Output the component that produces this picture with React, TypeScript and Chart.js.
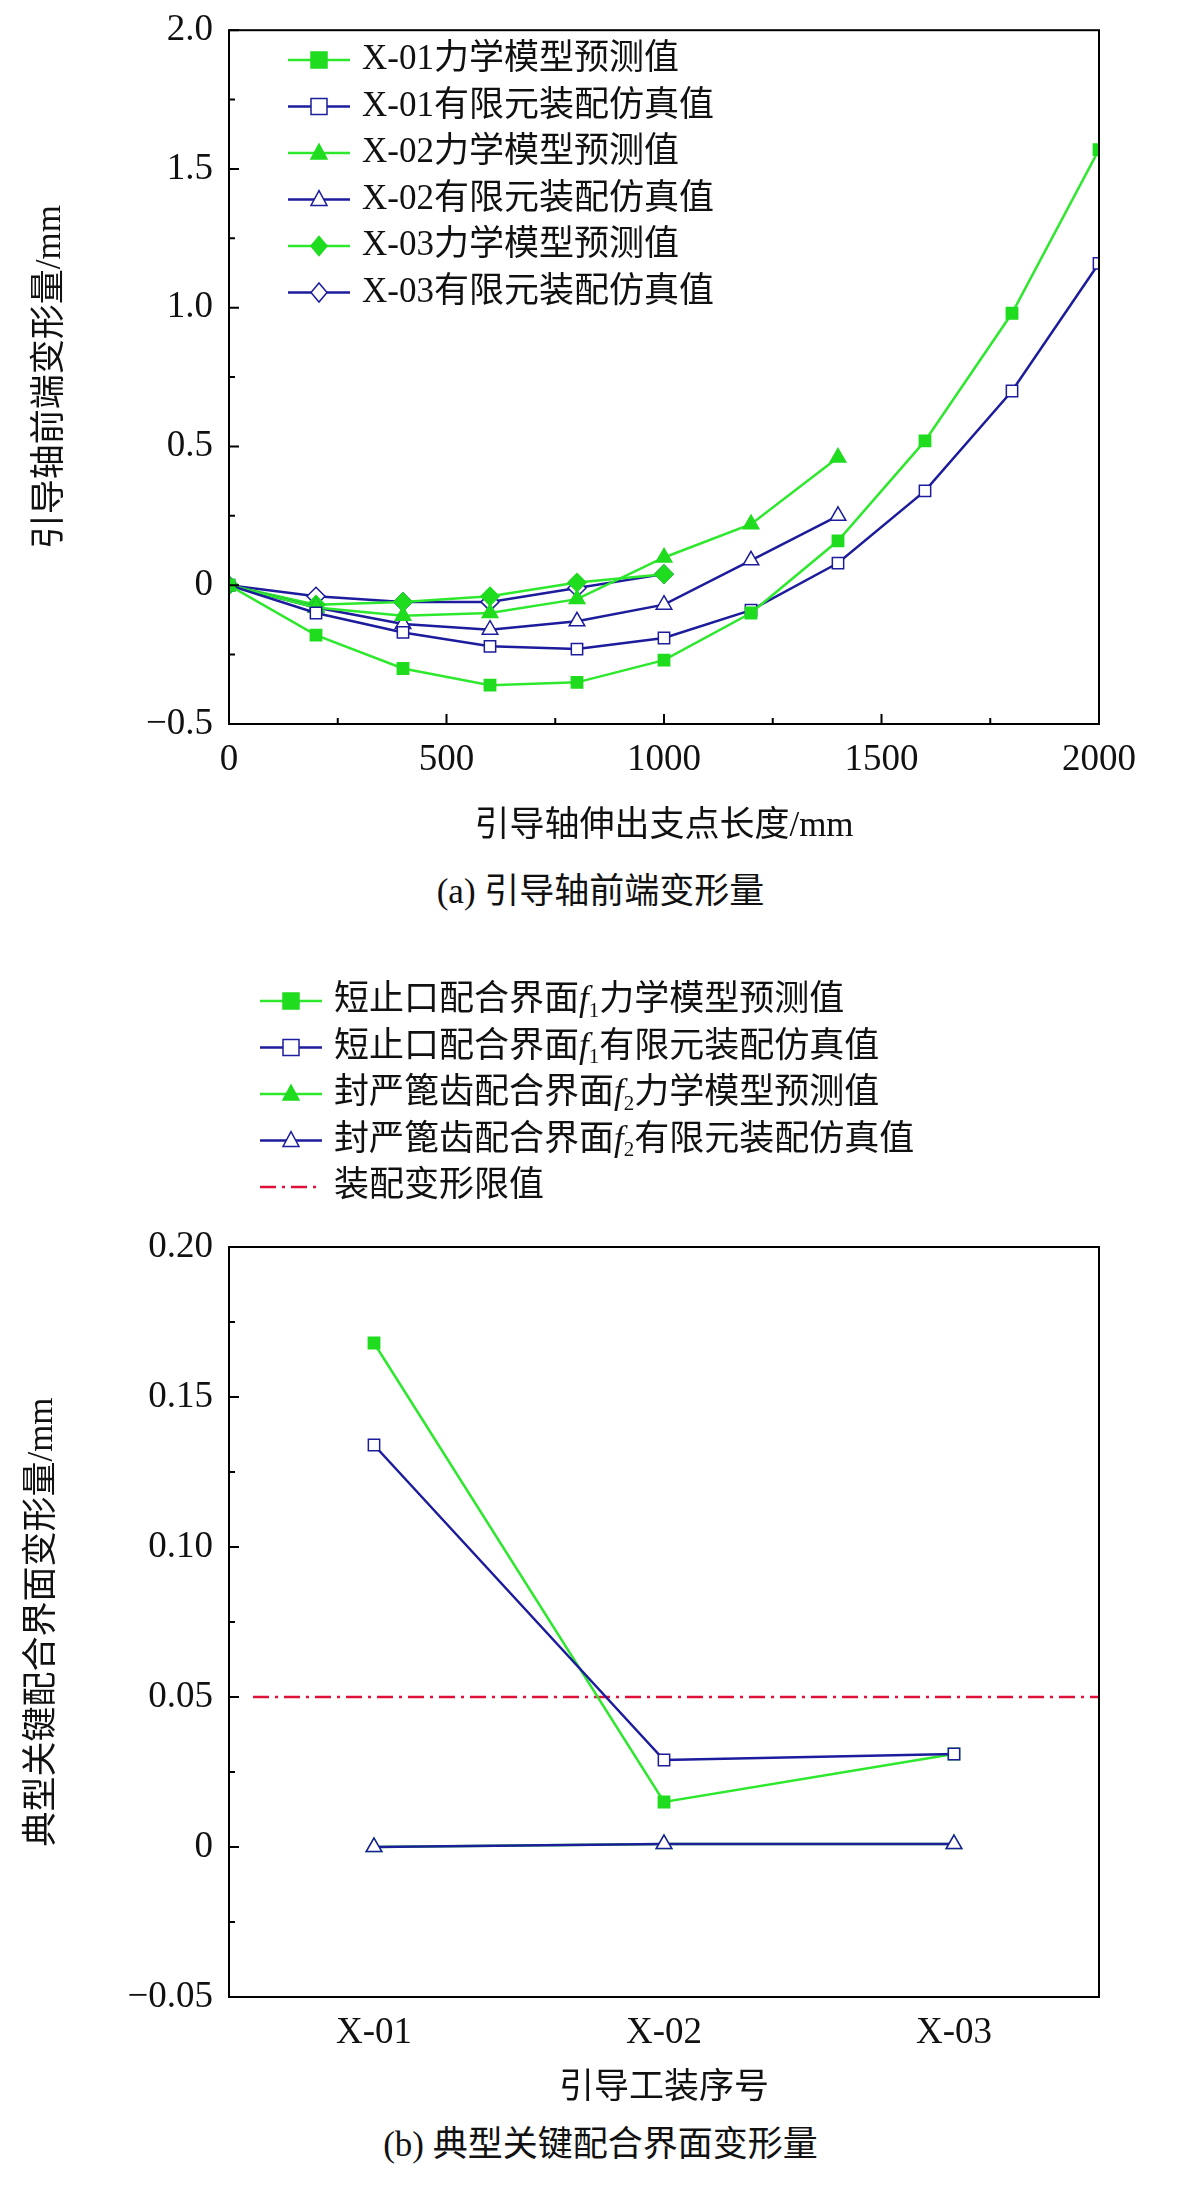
import React, { useEffect, useRef } from 'react';
import { Chart, registerables } from 'chart.js';

Chart.register(...registerables);

const FONT = '"Liberation Serif", "Noto Sans CJK SC", serif';
const GREEN = '#2ee82e';
const GREEN_FILL = '#1fdc1f';
const BLUE = '#1c1c9c';

// chart (a)
const lengths = [0, 200, 400, 600, 800, 1000, 1200, 1400, 1600, 1800, 2000];
const x01Model = [0, -0.18, -0.3, -0.36, -0.35, -0.27, -0.1, 0.16, 0.52, 0.98, 1.57];
const x01Fe = [0, -0.1, -0.17, -0.22, -0.23, -0.19, -0.09, 0.08, 0.34, 0.7, 1.16];
const x02Model = [0, -0.08, -0.11, -0.1, -0.05, 0.1, 0.22, 0.46];
const x02Fe = [0, -0.08, -0.14, -0.16, -0.13, -0.07, 0.09, 0.25];
const x03Model = [0, -0.07, -0.06, -0.04, 0.01, 0.04];
const x03Fe = [0, -0.04, -0.06, -0.06, -0.01, 0.04];

// chart (b)
const fixtures = ['X-01', 'X-02', 'X-03'];
const f1Model = [0.168, 0.015, 0.031];
const f1Fe = [0.134, 0.029, 0.031];
const f2Model = [0, 0.001, 0.001];
const f2Fe = [0, 0.001, 0.001];
const limitValue = 0.05;

type Seg = { t: string; italic?: boolean; sub?: boolean };
type Entry = { color: string; marker?: string; fill?: string; dash?: number[]; segs: Seg[] };

function drawMarker(ctx: CanvasRenderingContext2D, style: string, x: number, y: number, r: number, fill: string, stroke: string) {
  ctx.save();
  ctx.beginPath();
  if (style === 'rect') ctx.rect(x - r, y - r, 2 * r, 2 * r);
  else if (style === 'triangle') {
    ctx.moveTo(x, y - r * 1.1);
    ctx.lineTo(x + r, y + r * 0.75);
    ctx.lineTo(x - r, y + r * 0.75);
    ctx.closePath();
  } else {
    ctx.moveTo(x, y - r * 1.2);
    ctx.lineTo(x + r, y);
    ctx.lineTo(x, y + r * 1.2);
    ctx.lineTo(x - r, y);
    ctx.closePath();
  }
  ctx.fillStyle = fill;
  ctx.fill();
  ctx.lineWidth = 1.5;
  ctx.strokeStyle = stroke;
  ctx.stroke();
  ctx.restore();
}

function drawLegend(ctx: CanvasRenderingContext2D, x: number, y: number, gap: number, entries: Entry[]) {
  entries.forEach((e, i) => {
    const cy = y + i * gap;
    ctx.save();
    ctx.strokeStyle = e.color;
    ctx.lineWidth = 2.5;
    if (e.dash) ctx.setLineDash(e.dash);
    ctx.beginPath();
    ctx.moveTo(x, cy);
    ctx.lineTo(x + 62, cy);
    ctx.stroke();
    ctx.restore();
    if (e.marker) drawMarker(ctx, e.marker, x + 31, cy, 8, e.fill || '#fff', e.fill && e.fill !== '#fff' ? e.fill : e.color);
    let tx = x + 74;
    ctx.fillStyle = '#111';
    ctx.textBaseline = 'middle';
    e.segs.forEach((s) => {
      ctx.font = `${s.italic ? 'italic ' : ''}${s.sub ? 21 : 35}px ${FONT}`;
      ctx.fillText(s.t, tx, s.sub ? cy + 10 : cy);
      tx += ctx.measureText(s.t).width;
    });
  });
}

function frameTicks(minorX: boolean) {
  return {
    id: 'frameTicks',
    afterDraw(chart: any) {
      const { ctx, chartArea: a, scales } = chart;
      ctx.save();
      ctx.strokeStyle = '#000';
      ctx.lineWidth = 2;
      ctx.strokeRect(a.left, a.top, a.right - a.left, a.bottom - a.top);
      const y = scales.y;
      const yt = y.ticks.map((t: any) => t.value);
      yt.forEach((v: number, i: number) => {
        const p = y.getPixelForValue(v);
        ctx.beginPath();
        ctx.moveTo(a.left, p);
        ctx.lineTo(a.left + 10, p);
        if (i < yt.length - 1) {
          const m = y.getPixelForValue((v + yt[i + 1]) / 2);
          ctx.moveTo(a.left, m);
          ctx.lineTo(a.left + 6, m);
        }
        ctx.stroke();
      });
      if (minorX) {
        const x = scales.x;
        const xt = x.ticks.map((t: any) => t.value);
        xt.forEach((v: number, i: number) => {
          const p = x.getPixelForValue(v);
          ctx.beginPath();
          ctx.moveTo(p, a.bottom);
          ctx.lineTo(p, a.bottom - 10);
          if (i < xt.length - 1) {
            const m = x.getPixelForValue((v + xt[i + 1]) / 2);
            ctx.moveTo(m, a.bottom);
            ctx.lineTo(m, a.bottom - 6);
          }
          ctx.stroke();
        });
      }
      ctx.restore();
    },
  };
}

const pts = (ys: number[]) => ys.map((v, i) => ({ x: lengths[i], y: v }));

function series(label: string, data: any[], model: boolean, style: string) {
  return {
    label,
    data,
    borderColor: model ? GREEN : BLUE,
    borderWidth: 2.5,
    pointStyle: style,
    pointRadius: style === 'rect' ? 8 : 9,
    pointBackgroundColor: model ? GREEN_FILL : '#fff',
    pointBorderColor: model ? GREEN_FILL : BLUE,
    pointBorderWidth: 1.5,
    tension: 0,
  };
}

const tickFont = { family: FONT, size: 37 };
const titleFont = { family: FONT, size: 35 };

function ChartA() {
  const ref = useRef<HTMLCanvasElement | null>(null);
  useEffect(() => {
    if (!ref.current) return;
    const legendA: Entry[] = [
      { color: GREEN, marker: 'rect', fill: GREEN_FILL, segs: [{ t: 'X-01力学模型预测值' }] },
      { color: BLUE, marker: 'rect', segs: [{ t: 'X-01有限元装配仿真值' }] },
      { color: GREEN, marker: 'triangle', fill: GREEN_FILL, segs: [{ t: 'X-02力学模型预测值' }] },
      { color: BLUE, marker: 'triangle', segs: [{ t: 'X-02有限元装配仿真值' }] },
      { color: GREEN, marker: 'diamond', fill: GREEN_FILL, segs: [{ t: 'X-03力学模型预测值' }] },
      { color: BLUE, marker: 'diamond', segs: [{ t: 'X-03有限元装配仿真值' }] },
    ];
    const chart = new Chart(ref.current, {
      type: 'line',
      data: {
        datasets: [
          series('X-01力学模型预测值', pts(x01Model), true, 'rect'),
          series('X-01有限元装配仿真值', pts(x01Fe), false, 'rect'),
          series('X-02力学模型预测值', pts(x02Model), true, 'triangle'),
          series('X-02有限元装配仿真值', pts(x02Fe), false, 'triangle'),
          series('X-03力学模型预测值', pts(x03Model), true, 'rectRot'),
          series('X-03有限元装配仿真值', pts(x03Fe), false, 'rectRot'),
        ] as any,
      },
      options: {
        animation: false,
        responsive: false,
        layout: { padding: { top: 24, right: 82 } },
        plugins: { legend: { display: false }, tooltip: { enabled: false } },
        scales: {
          x: {
            type: 'linear',
            min: 0,
            max: 2000,
            afterFit: (s: any) => { s.height = 136; },
            ticks: { stepSize: 500, font: tickFont, color: '#111', padding: 6, callback: (v: any) => String(v) },
            grid: { display: false },
            border: { display: false },
            title: { display: true, text: '引导轴伸出支点长度/mm', font: titleFont, color: '#111', padding: { top: 4, bottom: 12 } },
          },
          y: {
            min: -0.5,
            max: 2.0,
            afterFit: (s: any) => { s.width = 229; },
            ticks: {
              stepSize: 0.5,
              font: tickFont,
              color: '#111',
              padding: 8,
              callback: (v: any) => (v === 0 ? '0' : v < 0 ? '−' + Math.abs(v).toFixed(1) : Number(v).toFixed(1)),
            },
            grid: { display: false },
            border: { display: false },
            title: { display: true, text: '引导轴前端变形量/mm', font: titleFont, color: '#111', padding: { top: 30, bottom: 4 } },
          },
        },
      },
      plugins: [
        frameTicks(true),
        { id: 'legA', afterDraw: (c: any) => drawLegend(c.ctx, 288, 60, 46.5, legendA) },
      ],
    });
    return () => chart.destroy();
  }, []);
  return <canvas ref={ref} width={1181} height={860} style={{ position: 'absolute', left: 0, top: 0 }} />;
}

function ChartB() {
  const ref = useRef<HTMLCanvasElement | null>(null);
  useEffect(() => {
    if (!ref.current) return;
    const legendB: Entry[] = [
      { color: GREEN, marker: 'rect', fill: GREEN_FILL, segs: [{ t: '短止口配合界面' }, { t: 'f', italic: true }, { t: '1', sub: true }, { t: '力学模型预测值' }] },
      { color: BLUE, marker: 'rect', segs: [{ t: '短止口配合界面' }, { t: 'f', italic: true }, { t: '1', sub: true }, { t: '有限元装配仿真值' }] },
      { color: GREEN, marker: 'triangle', fill: GREEN_FILL, segs: [{ t: '封严篦齿配合界面' }, { t: 'f', italic: true }, { t: '2', sub: true }, { t: '力学模型预测值' }] },
      { color: BLUE, marker: 'triangle', segs: [{ t: '封严篦齿配合界面' }, { t: 'f', italic: true }, { t: '2', sub: true }, { t: '有限元装配仿真值' }] },
      { color: '#e0103a', dash: [16, 6, 3, 6], segs: [{ t: '装配变形限值' }] },
    ];
    const chart = new Chart(ref.current, {
      type: 'line',
      data: {
        labels: fixtures,
        datasets: [
          series('f2有限元装配仿真值', f2Fe, false, 'triangle'),
          series('f2力学模型预测值', f2Model, true, 'triangle'),
          series('f1有限元装配仿真值', f1Fe, false, 'rect'),
          series('f1力学模型预测值', f1Model, true, 'rect'),
        ] as any,
      },
      options: {
        animation: false,
        responsive: false,
        layout: { padding: { top: 287, right: 82 } },
        plugins: { legend: { display: false }, tooltip: { enabled: false } },
        scales: {
          x: {
            type: 'category',
            offset: true,
            afterFit: (s: any) => { s.height = 113; },
            ticks: { font: tickFont, color: '#111', padding: 6 },
            grid: { display: false },
            border: { display: false },
            title: { display: true, text: '引导工装序号', font: titleFont, color: '#111', padding: { top: 4, bottom: 0 } },
          },
          y: {
            min: -0.05,
            max: 0.2,
            afterFit: (s: any) => { s.width = 229; },
            ticks: {
              stepSize: 0.05,
              font: tickFont,
              color: '#111',
              padding: 8,
              callback: (v: any) => (Math.abs(v) < 1e-9 ? '0' : v < 0 ? '−' + Math.abs(v).toFixed(2) : Number(v).toFixed(2)),
            },
            grid: { display: false },
            border: { display: false },
            title: { display: true, text: '典型关键配合界面变形量/mm', font: titleFont, color: '#111', padding: { top: 22, bottom: 0 } },
          },
        },
      },
      plugins: [
        {
          id: 'limit',
          beforeDatasetsDraw: (c: any) => {
            const { ctx, chartArea: a } = c;
            const p = c.scales.y.getPixelForValue(limitValue);
            ctx.save();
            ctx.strokeStyle = '#e0103a';
            ctx.lineWidth = 2.5;
            ctx.setLineDash([16, 6, 3, 6]);
            ctx.beginPath();
            ctx.moveTo(a.left + 24, p);
            ctx.lineTo(a.right, p);
            ctx.stroke();
            ctx.restore();
          },
        },
        frameTicks(false),
        { id: 'legB', afterDraw: (c: any) => drawLegend(c.ctx, 260, 41, 46.5, legendB) },
      ],
    });
    return () => chart.destroy();
  }, []);
  return <canvas ref={ref} width={1181} height={1150} style={{ position: 'absolute', left: 0, top: 960 }} />;
}

const caption: React.CSSProperties = {
  position: 'absolute',
  left: 0,
  width: 1181,
  textAlign: 'center',
  fontFamily: FONT,
  fontSize: 35,
  color: '#111',
  lineHeight: '40px',
};

export default function App() {
  useEffect(() => {
    document.body.style.margin = '0';
  }, []);
  return (
    <div style={{ position: 'relative', width: 1181, height: 2203, background: '#fff' }}>
      <ChartA />
      <div style={{ ...caption, top: 872, paddingLeft: 10 }}>(a) 引导轴前端变形量</div>
      <ChartB />
      <div style={{ ...caption, top: 2125, paddingLeft: 10 }}>(b) 典型关键配合界面变形量</div>
    </div>
  );
}
